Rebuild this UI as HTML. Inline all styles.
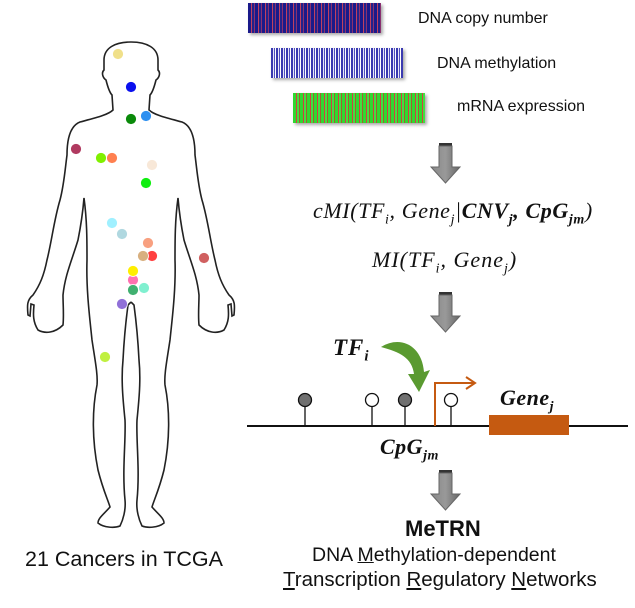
<!DOCTYPE html>
<html><head><meta charset="utf-8"><style>
html,body{margin:0;padding:0;background:#fff;}
body{width:635px;height:608px;position:relative;overflow:hidden;font-family:"Liberation Sans",sans-serif;}
.t{position:absolute;white-space:nowrap;color:#111;}
.m{font-family:"Liberation Serif",serif;font-style:italic;}
.hm{position:absolute;box-shadow:2px 2px 3px #aaa;}
</style></head><body>
<div class="hm" style="left:248px;top:3px;width:133px;height:30px;background:repeating-linear-gradient(90deg,#1a1a8a 0 3px,#c04060 3px 4px,#22228a 4px 6px,#8a3070 6px 7px);"></div>
<div class="hm" style="left:271px;top:48px;width:132px;height:30px;background:repeating-linear-gradient(90deg,#3a3ab0 0 2px,#e8e8f8 2px 3px,#5050c0 3px 4px,#fff 4px 5px);"></div>
<div class="hm" style="left:293px;top:93px;width:132px;height:30px;background:repeating-linear-gradient(90deg,#30d830 0 3px,#d04040 3px 4px,#40e040 4px 6px,#a06030 6px 7px);"></div>
<div class="t" style="left:418px;top:10px;font-size:16px;">DNA copy number</div>
<div class="t" style="left:437px;top:55px;font-size:16px;">DNA methylation</div>
<div class="t" style="left:457px;top:98px;font-size:16px;">mRNA expression</div>

<svg width="635" height="608" style="position:absolute;left:0;top:0">
<defs>
<linearGradient id="ga" x1="0" x2="1"><stop offset="0" stop-color="#888"/><stop offset="0.5" stop-color="#999"/><stop offset="1" stop-color="#666"/></linearGradient>
<g id="dn"><rect x="9" y="0" width="13" height="3" fill="#333"/><polygon points="9,3 22,3 22,24 30,24 15.5,40 1,24 9,24" fill="url(#ga)" stroke="#666" stroke-width="1"/></g>
<g id="half"><path d="M131,42 C115,42 104,48 104,60 L104,70 C101,73 103,78 106,80 C108,88 110,93 112,95 L113,110 C108,115 95,118 80,122 C70,126 67,140 67,155 C65,170 64,185 60,200 C54,220 52,240 47,260 C44,275 40,285 33,295 C27,300 27,305 28,315 L30,316 L31,304 L34,305 C33,315 33,322 38,330 C45,334 55,333 63,325 C64,315 63,305 63,295 C65,275 72,260 78,240 C82,220 83,210 84,198 C87,220 87,240 87,260 C86,290 90,320 92,340 C95,360 98,375 97,385 C92,410 92,440 98,470 C103,490 108,500 110,507 C104,514 98,518 98,523 C104,528 115,528 120,526 C123,520 126,510 125,500 C122,470 126,440 125,420 C123,400 121,380 123,360 C124,340 126,320 128,305 L131,302" fill="none" stroke="#222" stroke-width="1.6"/></g>
</defs>
<use href="#half"/>
<use href="#half" transform="translate(262,0) scale(-1,1)"/>
<g stroke="#fff" stroke-width="0.8">
<circle cx="118" cy="54" r="5.5" fill="#f0e08a"/>
<circle cx="131" cy="87" r="5.5" fill="#0a10ee"/>
<circle cx="131" cy="119" r="5.5" fill="#0a8a0a"/>
<circle cx="146" cy="116" r="5.5" fill="#2e90f0"/>
<circle cx="76" cy="149" r="5.5" fill="#b03a60"/>
<circle cx="101" cy="158" r="5.5" fill="#80f000"/>
<circle cx="112" cy="158" r="5.5" fill="#ff8050"/>
<circle cx="152" cy="165" r="5.5" fill="#f8e8d8"/>
<circle cx="146" cy="183" r="5.5" fill="#10ee10"/>
<circle cx="112" cy="223" r="5.5" fill="#a0f0ff"/>
<circle cx="122" cy="234" r="5.5" fill="#b0d8e0"/>
<circle cx="148" cy="243" r="5.5" fill="#f8a080"/>
<circle cx="152" cy="256" r="5.5" fill="#ff4040"/>
<circle cx="143" cy="256" r="5.5" fill="#d8b080"/>
<circle cx="204" cy="258" r="5.5" fill="#d06060"/>
<circle cx="133" cy="280" r="5.5" fill="#ff70b0"/>
<circle cx="133" cy="271" r="5.5" fill="#ffee00"/>
<circle cx="133" cy="290" r="5.5" fill="#40b070"/>
<circle cx="144" cy="288" r="5.5" fill="#80f0d0"/>
<circle cx="122" cy="304" r="5.5" fill="#9070d8"/>
<circle cx="105" cy="357" r="5.5" fill="#c0f040"/>
</g>
<use href="#dn" x="430" y="143"/>
<use href="#dn" x="430" y="292"/>
<use href="#dn" x="430" y="470"/>
<line x1="247" y1="426" x2="628" y2="426" stroke="#111" stroke-width="2"/>
<g stroke="#111" stroke-width="1.3">
<line x1="305" y1="400" x2="305" y2="426"/><line x1="372" y1="400" x2="372" y2="426"/><line x1="405" y1="400" x2="405" y2="426"/><line x1="451" y1="400" x2="451" y2="426"/>
<circle cx="305" cy="400" r="6.5" fill="#707070"/><circle cx="372" cy="400" r="6.5" fill="#fff"/><circle cx="405" cy="400" r="6.5" fill="#707070"/><circle cx="451" cy="400" r="6.5" fill="#fff"/>
</g>
<rect x="489" y="415" width="80" height="20" fill="#c55a11"/>
<path d="M435,426 L435,383 L474,383 M466,377 L475,383 L466,389" fill="none" stroke="#c55a11" stroke-width="2"/>
<path d="M381,347 C400,335 422,345 424,372 L430,370 L419,392 L408,374 L414,374 C412,358 400,352 381,347 Z" fill="#5a9a30"/>
</svg>
<div class="t m" style="left:313px;top:198px;font-size:22px;letter-spacing:0.6px;">cMI(TF<sub style="font-size:14px">i</sub>, Gene<sub style="font-size:14px">j</sub>|<b>CNV<sub style="font-size:14px">j</sub>, CpG<sub style="font-size:14px">jm</sub></b>)</div>
<div class="t m" style="left:372px;top:247px;font-size:22px;letter-spacing:1px;">MI(TF<sub style="font-size:14px">i</sub>, Gene<sub style="font-size:14px">j</sub>)</div>
<div class="t m" style="left:333px;top:335px;font-size:23px;font-weight:bold;letter-spacing:1px;">TF<sub style="font-size:15px">i</sub></div>
<div class="t m" style="left:500px;top:385px;font-size:22px;font-weight:bold;letter-spacing:0.5px;">Gene<sub style="font-size:14px">j</sub></div>
<div class="t m" style="left:380px;top:434px;font-size:22px;font-weight:bold;letter-spacing:0.5px;">CpG<sub style="font-size:14px">jm</sub></div>
<div class="t" style="left:405px;top:516px;font-size:22px;font-weight:bold;">MeTRN</div>
<div class="t" style="left:312px;top:544px;font-size:19.5px;">DNA <u>M</u>ethylation-dependent</div>
<div class="t" style="left:283px;top:568px;font-size:20.5px;"><u>T</u>ranscription <u>R</u>egulatory <u>N</u>etworks</div>
<div class="t" style="left:25px;top:547px;font-size:21.5px;">21 Cancers in TCGA</div>
</body></html>
